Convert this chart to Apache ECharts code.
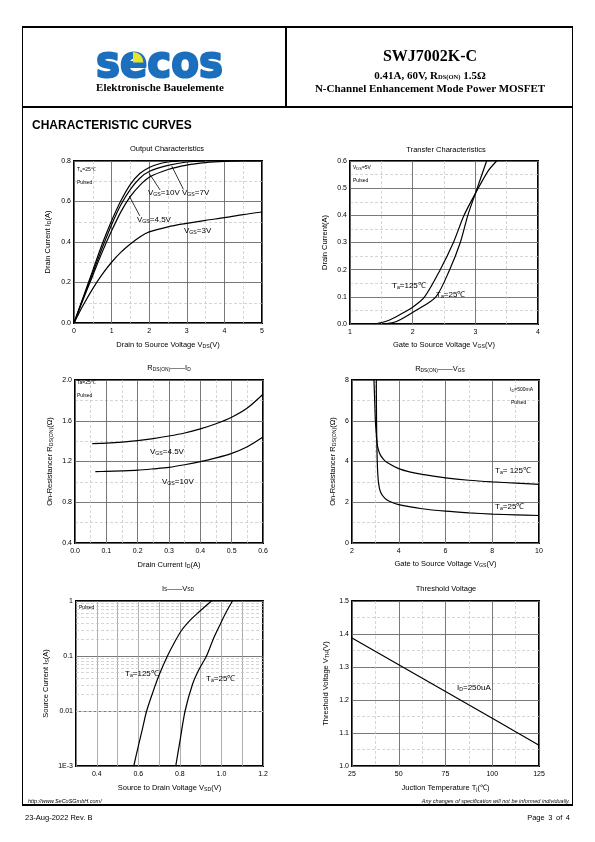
<!DOCTYPE html>
<html><head><meta charset="utf-8">
<script src="https://cdn.jsdelivr.net/npm/echarts@6/dist/echarts.min.js"></script>
<style>
html,body{margin:0;padding:0;background:#fff;}
#page{position:relative;width:595px;height:842px;overflow:hidden;background:#fff;}
.abs{position:absolute;}
.ln{position:absolute;background:#000;}
.serif{font-family:"Liberation Serif","Times New Roman",serif;font-weight:bold;color:#000;white-space:nowrap;}
.sans{font-family:"Liberation Sans",Arial,sans-serif;color:#000;white-space:nowrap;}
#chart{position:absolute;left:0;top:0;width:595px;height:842px;}
</style></head><body>
<div id="page">
<div id="chart"></div>
<!-- frame -->
<div class="ln" style="left:22px;top:26px;width:551px;height:2px"></div>
<div class="ln" style="left:22px;top:27px;width:1px;height:779px"></div>
<div class="ln" style="left:572px;top:27px;width:1px;height:779px"></div>
<div class="ln" style="left:22px;top:106px;width:551px;height:2px"></div>
<div class="ln" style="left:285px;top:27px;width:2px;height:80px"></div>
<div class="ln" style="left:22px;top:804px;width:551px;height:2px"></div>
<!-- logo -->
<svg class="abs" style="left:0;top:0" width="300" height="106">
  <text x="96" y="77" font-family="DejaVu Sans" font-weight="bold" font-size="44" fill="#1b6fbd" stroke="#1b6fbd" stroke-width="2.2" stroke-linejoin="round" textLength="127" lengthAdjust="spacingAndGlyphs">secos</text>
  <path d="M133,62.5 L133,52 A10.5,10.5 0 0 1 143.5,62.5 Z" fill="#e6e52e"/>
</svg>
<div class="abs serif" style="left:60px;top:81px;width:200px;text-align:center;font-size:11px;line-height:12px">Elektronische Bauelemente</div>
<div class="abs serif" style="left:287px;top:47px;width:286px;text-align:center;font-size:16px;line-height:17px">SWJ7002K-C</div>
<div class="abs serif" style="left:287px;top:69px;width:286px;text-align:center;font-size:11px;line-height:12px">0.41A, 60V, R<span style="font-size:6.5px">DS(ON)</span> 1.5Ω</div>
<div class="abs serif" style="left:287px;top:81.5px;width:286px;text-align:center;font-size:11px;line-height:12px">N-Channel Enhancement Mode Power MOSFET</div>
<div class="abs sans" style="left:32px;top:118.5px;font-size:12px;line-height:13px;font-weight:bold">CHARACTERISTIC CURVES</div>
<!-- footer -->
<div class="abs sans" style="left:28px;top:797.5px;font-size:5.5px;line-height:6px;font-style:italic">http://www.SeCoSGmbH.com/</div>
<div class="abs sans" style="right:25px;top:797.5px;font-size:5.5px;line-height:6px;font-style:italic">Any changes of specification will not be informed individually.</div>
<div class="abs sans" style="left:25px;top:812.5px;font-size:7.5px;line-height:9px">23-Aug-2022 Rev. B</div>
<div class="abs sans" style="right:25px;top:812.5px;font-size:7.5px;line-height:9px;word-spacing:1.5px">Page 3 of 4</div>
</div>
<script>
// ---------------- DATA ----------------
// Output characteristics: [VDS (V), ID (A)]
const outVgs10 = [[0,0],[0.25,0.13],[0.5,0.26],[0.75,0.39],[1,0.505],[1.25,0.605],[1.5,0.685],[1.75,0.738],[2,0.768],[2.25,0.785],[2.5,0.795],[2.8,0.8]];
const outVgs7  = [[0,0],[0.25,0.125],[0.5,0.248],[0.75,0.37],[1,0.485],[1.25,0.585],[1.5,0.66],[1.75,0.715],[2,0.748],[2.5,0.778],[3,0.795],[3.5,0.8]];
const outVgs45 = [[0,0],[0.25,0.12],[0.5,0.235],[0.75,0.35],[1,0.455],[1.25,0.55],[1.5,0.625],[1.75,0.68],[2,0.72],[2.5,0.758],[3,0.78],[3.5,0.792],[4,0.798],[4.5,0.8],[5,0.8]];
const outVgs3  = [[0,0],[0.25,0.09],[0.5,0.17],[0.75,0.24],[1,0.30],[1.25,0.35],[1.5,0.39],[1.75,0.425],[2,0.45],[2.5,0.475],[3,0.492],[3.5,0.507],[4,0.52],[4.5,0.535],[5,0.548]];
// Transfer characteristics: [VGS (V), ID (A)]
const trTa125 = [[1.4,0],[1.6,0.012],[1.8,0.035],[2.0,0.062],[2.19,0.1],[2.44,0.2],[2.65,0.3],[2.82,0.4],[3.0,0.48],[3.2,0.562],[3.34,0.6]];
const trTa25  = [[1.55,0],[1.75,0.01],[2.05,0.05],[2.37,0.1],[2.59,0.2],[2.76,0.3],[2.88,0.4],[3.0,0.48],[3.18,0.6]];
// RDS(ON) vs ID: [ID (A), R (ohm)]
const ridVgs45 = [[0.055,1.375],[0.1,1.38],[0.15,1.39],[0.2,1.405],[0.25,1.425],[0.3,1.45],[0.35,1.48],[0.4,1.52],[0.45,1.57],[0.5,1.635],[0.55,1.725],[0.6,1.86]];
const ridVgs10 = [[0.065,1.1],[0.1,1.103],[0.15,1.108],[0.2,1.115],[0.25,1.128],[0.3,1.143],[0.35,1.168],[0.4,1.198],[0.45,1.235],[0.5,1.28],[0.55,1.345],[0.6,1.44]];
// RDS(ON) vs VGS: [VGS (V), R (ohm)]
const rvTa125 = [[2.94,8],[2.97,7],[3.0,6],[3.05,5.2],[3.1,4.7],[3.2,4.35],[3.35,4.1],[3.5,3.95],[4,3.65],[4.5,3.48],[5,3.37],[6,3.2],[7,3.08],[8,3.0],[9,2.94],[10,2.88]];
const rvTa25  = [[3.04,8],[3.05,6],[3.08,4],[3.13,3.0],[3.22,2.5],[3.4,2.2],[3.6,2.05],[4,1.88],[5,1.68],[6,1.56],[7,1.48],[8,1.42],[9,1.38],[10,1.35]];
// IS vs VSD: [VSD (V), IS (A)]
const isTa125 = [[0.578,0.001],[0.6,0.0023],[0.62,0.0048],[0.64,0.01],[0.67,0.022],[0.70,0.045],[0.74,0.1],[0.775,0.18],[0.81,0.3],[0.85,0.45],[0.885,0.6],[0.952,1]];
const isTa25  = [[0.78,0.001],[0.8,0.0028],[0.825,0.01],[0.86,0.03],[0.89,0.055],[0.928,0.1],[0.96,0.2],[0.99,0.35],[1.02,0.6],[1.053,1]];
const isMinorLines = [0.002,0.003,0.004,0.005,0.006,0.007,0.008,0.009,0.02,0.03,0.04,0.05,0.06,0.07,0.08,0.09,0.2,0.3,0.4,0.5,0.6,0.7,0.8,0.9];
// Threshold voltage vs Tj: [Tj (C), VTH (V)]
const vthId250 = [[25,1.388],[50,1.307],[75,1.226],[100,1.145],[125,1.063]];
// leader lines of output chart (data coords)
const outLeaders = [[[2.29,0.657],[2.0,0.739]],[[2.91,0.66],[2.6,0.775]],[[1.75,0.529],[1.47,0.627]]];

// ---------------- CHART ----------------
const FONT = '"Liberation Sans Narrow","Liberation Sans",Arial,sans-serif';
const chart = echarts.init(document.getElementById('chart'), null, {width:595, height:842});

const grids = [
  {left:74, top:161, width:188, height:162},
  {left:350, top:161, width:188, height:163},
  {left:75, top:380, width:188, height:163},
  {left:352, top:380, width:187, height:163},
  {left:76, top:601, width:187, height:165},
  {left:352, top:601, width:187, height:165}
].map(g => Object.assign({show:true, borderColor:'#000', borderWidth:2, backgroundColor:'transparent', containLabel:false}, g));

const richName = {
  n:{fontSize:7.5, fontFamily:FONT, color:'#000'},
  s:{fontSize:5.2, fontFamily:FONT, color:'#000', padding:[4,0,0,0]}
};
const MAJ = {color:'#6a6a6a', width:0.9};
const MIN = {color:'#c4c4c4', width:0.7, type:[3,2]};

function axis(gi, o, isY) {
  const a = {
    type: o.type || 'value', gridIndex: gi, min:o.min, max:o.max,
    axisLine:{show:false}, axisTick:{show:false},
    axisLabel:{fontSize:7, color:'#000', fontFamily:FONT, margin: isY?3:5, formatter:o.fmt},
    splitLine:{show:true, lineStyle: o.majStyle || MAJ},
    name:o.name, nameLocation:'middle', nameGap:o.gap,
    nameTextStyle:{rich:richName, fontSize:7.5, fontFamily:FONT, color:'#000'}
  };
  if (o.interval != null) a.interval = o.interval;
  if (o.logBase) a.logBase = o.logBase;
  if (o.minor) {
    a.minorTick = {show:false, splitNumber:o.minor};
    a.minorSplitLine = {show:true, lineStyle:MIN};
  }
  return a;
}
const f1 = v => (Math.round(v*10)/10).toFixed(1);
const f0 = v => String(Math.round(v));

const xAxes = [
  axis(0,{min:0,max:5,interval:1,minor:2,fmt:f0,gap:17,name:'{n|Drain to Source Voltage V}{s|DS}{n|(V)}'}),
  axis(1,{min:1,max:4,interval:1,minor:2,fmt:f0,gap:16,name:'{n|Gate to Source Voltage V}{s|GS}{n|(V)}'}),
  axis(2,{min:0,max:0.6,interval:0.1,minor:2,fmt:f1,gap:17,name:'{n|Drain Current I}{s|D}{n|(A)}'}),
  axis(3,{min:2,max:10,interval:2,minor:2,fmt:f0,gap:16,name:'{n|Gate to Source Voltage V}{s|GS}{n|(V)}'}),
  axis(4,{min:0.3,max:1.2,interval:0.1,fmt:v => (Math.round(v*10)%2===0 ? f1(v) : ''),gap:17,
          majStyle:{color:'#9a9a9a', width:0.8},name:'{n|Source to Drain Voltage V}{s|SD}{n|(V)}'}),
  axis(5,{min:25,max:125,interval:25,minor:2,fmt:f0,gap:17,name:'{n|Juction Temperature T}{s|j}{n|(℃)}'})
];
const yAxes = [
  axis(0,{min:0,max:0.8,interval:0.2,minor:2,fmt:f1,gap:22,name:'{n|Drain Current I}{s|D}{n|(A)}'},true),
  axis(1,{min:0,max:0.6,interval:0.1,minor:2,fmt:f1,gap:21,name:'{n|Drain Current(A)}'},true),
  axis(2,{min:0.4,max:2.0,interval:0.4,minor:2,fmt:f1,gap:21,name:'{n|On-Resistancer R}{s|DS(ON)}{n|(Ω)}'},true),
  axis(3,{min:0,max:8,interval:2,minor:2,fmt:f0,gap:15,name:'{n|On-Resistancer R}{s|DS(ON)}{n|(Ω)}'},true),
  axis(4,{type:'log',logBase:10,min:0.001,max:1,fmt:v => (v<0.002?'1E-3':(v<0.05?'0.01':(v<0.5?'0.1':'1'))),gap:26,
          name:'{n|Source Current I}{s|S}{n|(A)}'},true),
  axis(5,{min:1.0,max:1.5,interval:0.1,minor:2,fmt:f1,gap:22,name:'{n|Threshold Voltage V}{s|TH}{n|(V)}'},true)
];

function curve(gi, data, extra) {
  return Object.assign({
    type:'line', xAxisIndex:gi, yAxisIndex:gi, data:data, showSymbol:false, symbol:'none',
    smooth:0.3, lineStyle:{color:'#000', width:1.2}, silent:true, clip:true, z:5
  }, extra || {});
}

const series = [
  curve(0, outVgs10, {markLine:{silent:true, symbol:'none', label:{show:false}, animation:false,
      lineStyle:{color:'#000', width:0.8, type:'solid'},
      data: outLeaders.map(p => [{coord:p[0]},{coord:p[1]}])}}),
  curve(0, outVgs7),
  curve(0, outVgs45),
  curve(0, outVgs3),
  curve(1, trTa125),
  curve(1, trTa25),
  curve(2, ridVgs45),
  curve(2, ridVgs10),
  curve(3, rvTa125),
  curve(3, rvTa25),
  curve(4, isTa125, {markLine:{silent:true, symbol:'none', label:{show:false}, animation:false, z:1,
      lineStyle:{color:'#c4c4c4', width:0.7, type:[3,2]},
      data: isMinorLines.map(v => ({yAxis:v}))}}),
  curve(4, isTa25),
  curve(5, vthId250, {smooth:false})
];

// text helpers
const richT = (fs) => ({
  n:{fontSize:fs, fontFamily:FONT, fill:'#000', color:'#000'},
  s:{fontSize:Math.max(4, fs*0.65), fontFamily:FONT, fill:'#000', color:'#000', padding:[Math.round(fs*0.45),0,0,0]}
});
function txt(x, y, text, fs, align) {
  return {type:'text', x:x, y:y, silent:true, z:100,
    style:{text:text, rich:richT(fs), fontSize:fs, fontFamily:FONT, fill:'#000',
      align: align || 'left', verticalAlign:'middle'}};
}
const graphics = [
  // titles
  txt(167,148.5,'{n|Output Characteristics}',7.5,'center'),
  txt(446,149.5,'{n|Transfer Characteristics}',7.5,'center'),
  txt(169,368,'{n|R}{s|DS(ON)}{n|——I}{s|D}',7.5,'center'),
  txt(440,369,'{n|R}{s|DS(ON)}{n|——V}{s|GS}',7.5,'center'),
  txt(178,588.5,'{n|I}{s|S}{n|——V}{s|SD}',7.5,'center'),
  txt(446,588.5,'{n|Threshold Voltage}',7.5,'center'),
  // chart 1 notes
  txt(77,170,'{n|T}{s|a}{n|=25℃}',5),
  txt(77,183,'{n|Pulsed}',5),
  txt(148,193,'{n|V}{s|GS}{n|=10V}',8),
  txt(182,193,'{n|V}{s|GS}{n|=7V}',8),
  txt(137,220,'{n|V}{s|GS}{n|=4.5V}',8),
  txt(184,231,'{n|V}{s|GS}{n|=3V}',8),
  // chart 2 notes
  txt(353,168,'{n|V}{s|DS}{n|=5V}',5),
  txt(353,181,'{n|Pulsed}',5),
  txt(392,286,'{n|T}{s|a}{n|=125℃}',8),
  txt(436,295,'{n|T}{s|a}{n|=25℃}',8),
  // chart 3 notes
  txt(77,383,'{n|Ta=25℃}',5),
  txt(77,396,'{n|Pulsed}',5),
  txt(150,452,'{n|V}{s|GS}{n|=4.5V}',8),
  txt(162,482,'{n|V}{s|GS}{n|=10V}',8),
  // chart 4 notes
  txt(510,390,'{n|I}{s|D}{n|=500mA}',5),
  txt(511,403,'{n|Pulsed}',5),
  txt(495,471,'{n|T}{s|a}{n|= 125℃}',8),
  txt(495,507,'{n|T}{s|a}{n|=25℃}',8),
  // chart 5 notes
  txt(79,608,'{n|Pulsed}',5),
  txt(125,674,'{n|T}{s|a}{n|=125℃}',8),
  txt(206,679,'{n|T}{s|a}{n|=25℃}',8),
  // chart 6 notes
  txt(457,688,'{n|I}{s|D}{n|=250uA}',8)
];

chart.setOption({
  animation:false,
  backgroundColor:'transparent',
  textStyle:{fontFamily:FONT},
  grid:grids, xAxis:xAxes, yAxis:yAxes, series:series, graphic:graphics
});
</script>
</body></html>
